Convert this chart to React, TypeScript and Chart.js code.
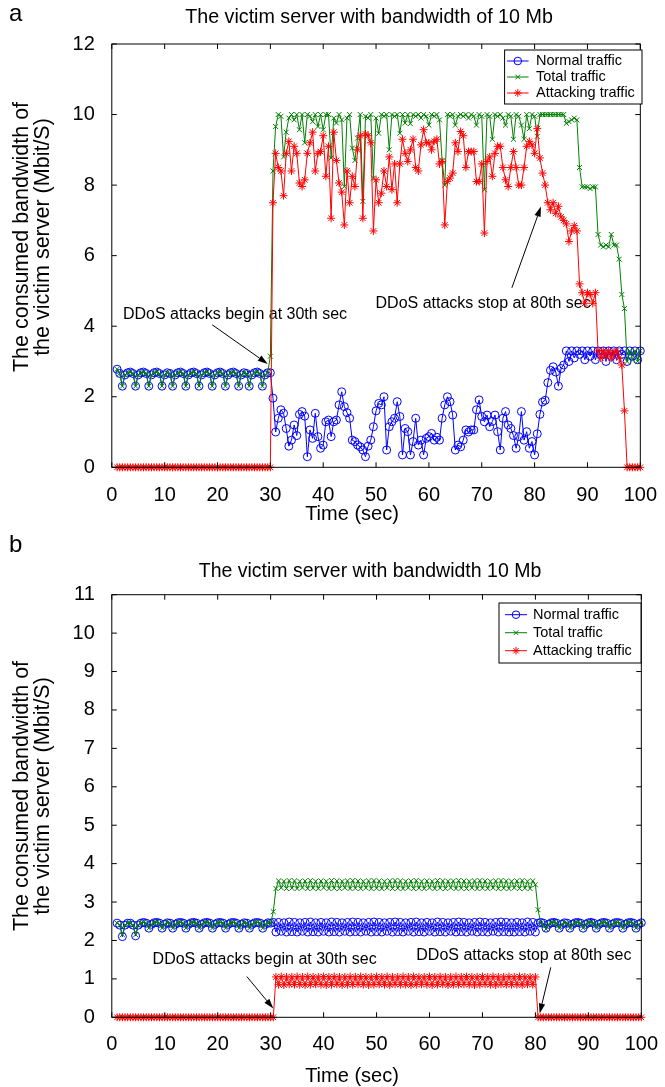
import React, { useEffect, useRef } from 'react';
import { Chart, registerables } from 'chart.js';

Chart.register(...registerables);

const FONT = '"Liberation Sans", Arial, Helvetica, sans-serif';

// sample instants: t = 1, 1.5, ..., 100 (seconds)
const TIME_START = 1;
const TIME_STEP = 0.5;

const SERIES_LABELS = ['Normal traffic', 'Total traffic', 'Attacking traffic'];
const X_TICKS = [0, 10, 20, 30, 40, 50, 60, 70, 80, 90, 100];
const A_Y_TICKS = [0, 2, 4, 6, 8, 10, 12];
const B_Y_TICKS = [0, 1, 2, 3, 4, 5, 6, 7, 8, 9, 10, 11];

const A_TITLE = 'The victim server with bandwidth of 10 Mb';
const B_TITLE = 'The victim server with bandwidth 10 Mb';
const Y_TITLE = ['The consumed bandwidth of', 'the victim server (Mbit/S)'];
const X_TITLE = 'Time (sec)';
const NOTE_BEGIN = 'DDoS attacks begin at 30th sec';
const NOTE_STOP = 'DDoS attacks stop at 80th sec';

// ---------- panel a ----------
const A_NORMAL = [
  2.78, 2.66, 2.30, 2.62, 2.68, 2.70, 2.66, 2.30, 2.62, 2.68,
  2.70, 2.66, 2.30, 2.62, 2.68, 2.70, 2.66, 2.30, 2.62, 2.68,
  2.66, 2.30, 2.62, 2.68, 2.70, 2.66, 2.30, 2.62, 2.68, 2.70,
  2.66, 2.30, 2.62, 2.68, 2.70, 2.66, 2.30, 2.62, 2.68, 2.70,
  2.66, 2.30, 2.62, 2.68, 2.70, 2.66, 2.30, 2.62, 2.68, 2.66,
  2.30, 2.62, 2.68, 2.70, 2.66, 2.30, 2.62, 2.68, 2.68, 1.96,
  1.00, 1.39, 1.63, 1.53, 1.10, 0.60, 0.77, 1.20, 0.90, 1.50,
  1.58, 1.45, 0.30, 1.06, 0.82, 1.53, 0.87, 0.54, 0.63, 1.29,
  1.34, 0.87, 1.29, 1.34, 1.77, 2.14, 1.72, 1.55, 1.39, 0.77,
  0.73, 0.63, 0.58, 0.49, 0.30, 0.60, 0.77, 1.15, 1.60, 1.81,
  1.77, 2.00, 0.49, 1.15, 1.29, 1.39, 1.86, 1.44, 0.35, 1.10,
  1.01, 0.35, 0.73, 1.39, 0.63, 0.77, 0.35, 0.82, 0.87, 0.96,
  0.77, 0.85, 0.77, 1.39, 1.77, 2.00, 1.86, 1.48, 0.49, 0.63,
  0.58, 0.77, 1.06, 1.00, 1.06, 1.06, 1.63, 1.91, 1.44, 1.29,
  1.48, 1.15, 1.30, 1.48, 1.01, 0.49, 1.39, 1.58, 1.20, 1.10,
  0.90, 0.54, 0.87, 1.58, 0.77, 1.01, 0.54, 0.73, 0.35, 0.95,
  1.50, 1.85, 1.90, 2.40, 2.75, 2.85, 2.70, 2.30, 2.80, 2.90,
  3.30, 3.00, 3.30, 3.10, 3.30, 3.20, 3.30, 3.05, 3.30, 3.15,
  3.30, 3.05, 3.30, 3.20, 3.30, 3.00, 3.30, 3.15, 3.30, 3.05,
  3.30, 3.20, 3.30, 3.00, 3.30, 3.15, 3.30, 3.05, 3.30,
];

const A_TOTAL = [
  2.78, 2.66, 2.30, 2.62, 2.68, 2.70, 2.66, 2.30, 2.62, 2.68,
  2.70, 2.66, 2.30, 2.62, 2.68, 2.70, 2.66, 2.30, 2.62, 2.68,
  2.66, 2.30, 2.62, 2.68, 2.70, 2.66, 2.30, 2.62, 2.68, 2.70,
  2.66, 2.30, 2.62, 2.68, 2.70, 2.66, 2.30, 2.62, 2.68, 2.70,
  2.66, 2.30, 2.62, 2.68, 2.70, 2.66, 2.30, 2.62, 2.68, 2.66,
  2.30, 2.62, 2.68, 2.70, 2.66, 2.30, 2.62, 2.68, 3.15, 8.40,
  9.66, 10.0, 9.95, 8.80, 9.50, 9.90, 10.0, 9.85, 10.0, 9.57,
  10.0, 9.20, 10.0, 9.95, 9.80, 10.0, 9.66, 10.0, 9.57, 10.0,
  10.0, 8.77, 9.90, 9.76, 10.0, 9.85, 7.96, 9.90, 10.0, 9.05,
  8.70, 9.33, 10.0, 7.54, 9.95, 9.90, 10.0, 8.20, 9.90, 9.47,
  10.0, 9.95, 10.0, 9.00, 10.0, 9.95, 10.0, 9.47, 10.0, 9.76,
  10.0, 9.74, 10.0, 9.95, 10.0, 9.90, 10.0, 9.95, 9.70, 10.0,
  9.95, 10.0, 9.85, 8.70, 8.00, 10.0, 9.95, 10.0, 9.70, 9.95,
  10.0, 9.95, 10.0, 9.90, 10.0, 9.95, 9.70, 10.0, 9.95, 7.87,
  10.0, 9.95, 9.30, 10.0, 9.95, 10.0, 9.90, 9.70, 10.0, 9.95,
  9.30, 10.0, 9.95, 9.70, 9.30, 10.0, 9.60, 10.0, 9.95, 9.38,
  10.0, 10.0, 10.0, 10.0, 10.0, 10.0, 10.0, 10.0, 10.0, 10.0,
  9.75, 9.80, 9.85, 9.90, 9.85, 8.50, 7.95, 7.95, 7.95, 7.90,
  7.95, 7.95, 6.60, 6.30, 6.25, 6.30, 6.25, 6.60, 6.30, 6.30,
  5.90, 4.90, 4.50, 3.00, 3.30, 3.05, 3.30, 3.00, 3.30,
];

const A_ATTACK = [
  0, 0, 0, 0, 0, 0, 0, 0, 0, 0,
  0, 0, 0, 0, 0, 0, 0, 0, 0, 0,
  0, 0, 0, 0, 0, 0, 0, 0, 0, 0,
  0, 0, 0, 0, 0, 0, 0, 0, 0, 0,
  0, 0, 0, 0, 0, 0, 0, 0, 0, 0,
  0, 0, 0, 0, 0, 0, 0, 0, 0, 7.50,
  8.90, 8.50, 8.40, 7.70, 8.90, 9.24, 8.40, 9.10, 8.90, 8.06,
  7.96, 8.15, 8.90, 9.20, 9.50, 8.40, 8.90, 8.95, 9.40, 8.25,
  9.10, 7.06, 9.50, 8.70, 8.06, 7.80, 6.87, 8.40, 7.50, 8.25,
  7.96, 9.00, 9.40, 7.06, 9.45, 9.40, 9.20, 6.70, 8.15, 7.50,
  7.77, 8.40, 7.96, 8.80, 7.87, 8.60, 7.50, 8.60, 9.30, 8.90,
  8.67, 9.00, 9.30, 8.50, 8.40, 9.14, 9.57, 9.20, 9.20, 9.00,
  9.24, 9.30, 8.60, 8.67, 6.87, 8.10, 8.20, 8.34, 9.20, 8.95,
  9.52, 9.40, 8.50, 8.95, 8.95, 8.95, 8.10, 8.10, 8.60, 6.64,
  8.67, 8.80, 8.25, 8.90, 9.10, 9.10, 8.50, 8.15, 7.96, 8.50,
  8.95, 8.50, 8.00, 8.00, 8.50, 9.10, 9.24, 9.14, 8.90, 9.60,
  8.77, 8.34, 8.00, 7.50, 7.30, 7.50, 7.20, 7.40, 7.10, 7.00,
  6.90, 6.40, 6.70, 6.85, 6.70, 5.20, 4.95, 4.65, 4.95, 4.90,
  4.65, 4.95, 3.30, 3.10, 3.30, 3.15, 3.30, 3.10, 3.25, 3.30,
  3.10, 2.90, 1.60, 0, 0, 0, 0, 0, 0,
];

// ---------- panel b ----------
const B_NORMAL = [
  2.45, 2.40, 2.10, 2.40, 2.45, 2.45, 2.40, 2.12, 2.40, 2.45,
  2.47, 2.45, 2.32, 2.42, 2.46, 2.47, 2.45, 2.32, 2.42, 2.46,
  2.45, 2.32, 2.42, 2.46, 2.47, 2.45, 2.32, 2.42, 2.46, 2.47,
  2.45, 2.32, 2.42, 2.46, 2.47, 2.45, 2.32, 2.42, 2.46, 2.47,
  2.45, 2.32, 2.42, 2.46, 2.47, 2.45, 2.32, 2.42, 2.46, 2.45,
  2.32, 2.42, 2.46, 2.47, 2.45, 2.32, 2.42, 2.46, 2.45, 2.47,
  2.22, 2.47, 2.24, 2.46, 2.22, 2.48, 2.23, 2.47, 2.22, 2.46,
  2.24, 2.47, 2.22, 2.48, 2.23, 2.46, 2.22, 2.47, 2.24, 2.46,
  2.22, 2.48, 2.23, 2.47, 2.22, 2.46, 2.24, 2.47, 2.22, 2.48,
  2.23, 2.47, 2.22, 2.46, 2.24, 2.47, 2.22, 2.48, 2.23, 2.47,
  2.22, 2.46, 2.24, 2.47, 2.22, 2.48, 2.23, 2.47, 2.22, 2.46,
  2.24, 2.47, 2.22, 2.48, 2.23, 2.46, 2.22, 2.47, 2.24, 2.46,
  2.22, 2.48, 2.23, 2.47, 2.22, 2.46, 2.24, 2.47, 2.22, 2.48,
  2.23, 2.47, 2.22, 2.46, 2.24, 2.47, 2.22, 2.48, 2.23, 2.47,
  2.22, 2.46, 2.24, 2.47, 2.22, 2.48, 2.23, 2.47, 2.22, 2.46,
  2.22, 2.47, 2.23, 2.46, 2.22, 2.48, 2.24, 2.47, 2.22, 2.45,
  2.47, 2.45, 2.32, 2.42, 2.46, 2.47, 2.45, 2.32, 2.42, 2.46,
  2.45, 2.32, 2.42, 2.46, 2.47, 2.45, 2.32, 2.42, 2.46, 2.47,
  2.45, 2.32, 2.42, 2.46, 2.47, 2.45, 2.32, 2.42, 2.46, 2.47,
  2.45, 2.32, 2.42, 2.46, 2.47, 2.45, 2.32, 2.42, 2.46,
];

const B_TOTAL = [
  2.45, 2.40, 2.15, 2.40, 2.45, 2.45, 2.40, 2.15, 2.40, 2.45,
  2.47, 2.45, 2.32, 2.42, 2.46, 2.47, 2.45, 2.32, 2.42, 2.46,
  2.45, 2.32, 2.42, 2.46, 2.47, 2.45, 2.32, 2.42, 2.46, 2.47,
  2.45, 2.32, 2.42, 2.46, 2.47, 2.45, 2.32, 2.42, 2.46, 2.47,
  2.45, 2.32, 2.42, 2.46, 2.47, 2.45, 2.32, 2.42, 2.46, 2.45,
  2.32, 2.42, 2.46, 2.47, 2.45, 2.32, 2.42, 2.46, 2.45, 2.75,
  3.35, 3.55, 3.37, 3.54, 3.35, 3.56, 3.36, 3.55, 3.35, 3.54,
  3.37, 3.55, 3.35, 3.56, 3.36, 3.54, 3.35, 3.55, 3.37, 3.54,
  3.35, 3.56, 3.36, 3.55, 3.35, 3.54, 3.37, 3.55, 3.35, 3.56,
  3.36, 3.55, 3.35, 3.54, 3.37, 3.55, 3.35, 3.56, 3.36, 3.55,
  3.35, 3.54, 3.37, 3.55, 3.35, 3.56, 3.36, 3.55, 3.35, 3.54,
  3.37, 3.55, 3.35, 3.56, 3.36, 3.54, 3.35, 3.55, 3.37, 3.54,
  3.35, 3.56, 3.36, 3.55, 3.35, 3.54, 3.37, 3.55, 3.35, 3.56,
  3.36, 3.55, 3.35, 3.54, 3.37, 3.55, 3.35, 3.56, 3.36, 3.55,
  3.35, 3.54, 3.37, 3.55, 3.35, 3.56, 3.36, 3.55, 3.35, 3.54,
  3.37, 3.55, 3.35, 3.56, 3.36, 3.54, 3.35, 3.55, 3.45, 2.80,
  2.45, 2.40, 2.30, 2.42, 2.46, 2.47, 2.45, 2.32, 2.42, 2.46,
  2.45, 2.32, 2.42, 2.46, 2.47, 2.45, 2.32, 2.42, 2.46, 2.47,
  2.45, 2.32, 2.42, 2.46, 2.47, 2.45, 2.32, 2.42, 2.46, 2.47,
  2.45, 2.32, 2.42, 2.46, 2.47, 2.45, 2.32, 2.42, 2.46,
];

const B_ATTACK = [
  0, 0, 0, 0, 0, 0, 0, 0, 0, 0,
  0, 0, 0, 0, 0, 0, 0, 0, 0, 0,
  0, 0, 0, 0, 0, 0, 0, 0, 0, 0,
  0, 0, 0, 0, 0, 0, 0, 0, 0, 0,
  0, 0, 0, 0, 0, 0, 0, 0, 0, 0,
  0, 0, 0, 0, 0, 0, 0, 0, 0, 0,
  1.05, 0.85, 1.06, 0.84, 1.05, 0.86, 1.05, 0.85, 1.06, 0.85,
  1.05, 0.84, 1.06, 0.85, 1.05, 0.86, 1.05, 0.85, 1.06, 0.84,
  1.05, 0.85, 1.06, 0.86, 1.05, 0.84, 1.05, 0.85, 1.06, 0.85,
  1.05, 0.86, 1.06, 0.85, 1.05, 0.84, 1.05, 0.85, 1.06, 0.86,
  1.05, 0.85, 1.06, 0.84, 1.05, 0.86, 1.05, 0.85, 1.06, 0.85,
  1.05, 0.84, 1.06, 0.85, 1.05, 0.86, 1.05, 0.85, 1.06, 0.84,
  1.05, 0.85, 1.06, 0.86, 1.05, 0.84, 1.05, 0.85, 1.06, 0.85,
  1.05, 0.86, 1.06, 0.85, 1.05, 0.84, 1.05, 0.85, 1.06, 0.86,
  1.05, 0.85, 1.06, 0.84, 1.05, 0.86, 1.05, 0.85, 1.06, 0.85,
  1.05, 0.85, 1.06, 0.84, 1.05, 0.86, 1.05, 0.85, 1.05, 0,
  0, 0, 0, 0, 0, 0, 0, 0, 0, 0,
  0, 0, 0, 0, 0, 0, 0, 0, 0, 0,
  0, 0, 0, 0, 0, 0, 0, 0, 0, 0,
  0, 0, 0, 0, 0, 0, 0, 0, 0,
];

// ---------- styling / layout ----------
const BLUE = '#0000ff';
const GREEN = '#008000';
const RED = '#ff0000';
const W = 665;
const PLOT_LEFT = 111.8;
const PLOT_RIGHT = 647;

type Note = { text: string; tx: number; ty: number; ax0: number; ay0: number; ax1: number; ay1: number };
type PanelCfg = {
  letter: string; title: string; top: number; height: number;
  plotTop: number; plotBottom: number; yMax: number; yTicks: number[];
  normal: number[]; total: number[]; attack: number[];
  xLabelPad: number; titleY: number; titleX: number; titleSize: number; letterY: number;
  xTitleX: number; xTitleY: number; yTitleY: number;
  legend: { left: number; top: number; right: number; bottom: number; rows: number[]; lineX0: number; lineX1: number; textX: number };
  notes: Note[];
};

const PANELS: PanelCfg[] = [
  {
    letter: 'a', title: A_TITLE, top: 0, height: 540,
    plotTop: 44, plotBottom: 467.3, yMax: 12, yTicks: A_Y_TICKS,
    normal: A_NORMAL, total: A_TOTAL, attack: A_ATTACK,
    xLabelPad: 8, titleY: 18, titleX: 369, titleSize: 19.7, letterY: 14,
    xTitleX: 352, xTitleY: 514, yTitleY: 237,
    legend: { left: 504.6, top: 50, right: 642, bottom: 104, rows: [61, 77, 93], lineX0: 507, lineX1: 528.6, textX: 536 },
    notes: [
      { text: NOTE_BEGIN, tx: 2.1, ty: 4.32, ax0: 19.0, ay0: 4.04, ax1: 29.5, ay1: 2.93 },
      { text: NOTE_STOP, tx: 49.9, ty: 4.63, ax0: 75.7, ay0: 5.09, ax1: 81.2, ay1: 7.39 },
    ],
  },
  {
    letter: 'b', title: B_TITLE, top: 525, height: 562,
    plotTop: 69.7, plotBottom: 492.3, yMax: 11, yTicks: B_Y_TICKS,
    normal: B_NORMAL, total: B_TOTAL, attack: B_ATTACK,
    xLabelPad: 7, titleY: 47, titleX: 370, titleSize: 19.5, letterY: 20,
    xTitleX: 352, xTitleY: 551, yTitleY: 271,
    legend: { left: 499, top: 78, right: 641, bottom: 138, rows: [89.7, 107.7, 125.7], lineX0: 505, lineX1: 527, textX: 533 },
    notes: [
      { text: NOTE_BEGIN, tx: 7.7, ty: 1.49, ax0: 25.5, ay0: 1.06, ax1: 30.5, ay1: 0.23 },
      { text: NOTE_STOP, tx: 57.5, ty: 1.6, ax0: 82.9, ay0: 1.3, ax1: 80.8, ay1: 0.1 },
    ],
  },
];

function makePoints(values: number[]) {
  return values.map((v, i) => ({ x: TIME_START + i * TIME_STEP, y: v }));
}

function drawMarker(ctx: CanvasRenderingContext2D, kind: string, x: number, y: number, r: number) {
  ctx.beginPath();
  if (kind === 'circle') {
    ctx.arc(x, y, r, 0, Math.PI * 2);
  } else {
    const d = r * Math.SQRT1_2;
    ctx.moveTo(x - d, y - d); ctx.lineTo(x + d, y + d);
    ctx.moveTo(x - d, y + d); ctx.lineTo(x + d, y - d);
    if (kind === 'star') {
      ctx.moveTo(x - r, y); ctx.lineTo(x + r, y);
      ctx.moveTo(x, y - r); ctx.lineTo(x, y + r);
    }
  }
  ctx.stroke();
}

function drawArrow(ctx: CanvasRenderingContext2D, x0: number, y0: number, x1: number, y1: number) {
  const ang = Math.atan2(y1 - y0, x1 - x0);
  const len = 10, half = 3.2;
  const bx = x1 - len * Math.cos(ang), by = y1 - len * Math.sin(ang);
  ctx.beginPath();
  ctx.moveTo(x0, y0); ctx.lineTo(bx, by);
  ctx.stroke();
  ctx.beginPath();
  ctx.moveTo(x1, y1);
  ctx.lineTo(bx + half * Math.sin(ang), by - half * Math.cos(ang));
  ctx.lineTo(bx - half * Math.sin(ang), by + half * Math.cos(ang));
  ctx.closePath();
  ctx.fill();
}

function makeDecor(p: PanelCfg) {
  return {
    id: 'decor' + p.letter,
    beforeDatasetsDraw(chart: any) {
      const ctx: CanvasRenderingContext2D = chart.ctx;
      const xs = chart.scales.x, ys = chart.scales.y;
      ctx.save();
      ctx.fillStyle = '#000'; ctx.strokeStyle = '#000'; ctx.lineWidth = 1;
      ctx.font = `16px ${FONT}`;
      ctx.textAlign = 'left'; ctx.textBaseline = 'middle';
      p.notes.forEach((n) => {
        ctx.fillText(n.text, xs.getPixelForValue(n.tx), ys.getPixelForValue(n.ty));
        drawArrow(ctx, xs.getPixelForValue(n.ax0), ys.getPixelForValue(n.ay0), xs.getPixelForValue(n.ax1), ys.getPixelForValue(n.ay1));
      });
      ctx.restore();
    },
    afterDatasetsDraw(chart: any) {
      const ctx: CanvasRenderingContext2D = chart.ctx;
      const a = chart.chartArea;
      const xs = chart.scales.x, ys = chart.scales.y;
      ctx.save();
      ctx.strokeStyle = '#000'; ctx.lineWidth = 1;
      ctx.strokeRect(a.left, a.top, a.right - a.left, a.bottom - a.top);
      const tl = 5;
      ctx.beginPath();
      X_TICKS.forEach((v) => {
        const x = xs.getPixelForValue(v);
        ctx.moveTo(x, a.bottom); ctx.lineTo(x, a.bottom - tl);
        ctx.moveTo(x, a.top); ctx.lineTo(x, a.top + tl);
      });
      p.yTicks.forEach((v) => {
        const y = ys.getPixelForValue(v);
        ctx.moveTo(a.left, y); ctx.lineTo(a.left + tl, y);
        ctx.moveTo(a.right, y); ctx.lineTo(a.right - tl, y);
      });
      ctx.stroke();
      // legend
      const L = p.legend;
      ctx.fillStyle = '#fff';
      ctx.fillRect(L.left, L.top, L.right - L.left, L.bottom - L.top);
      ctx.strokeStyle = '#000';
      ctx.strokeRect(L.left, L.top, L.right - L.left, L.bottom - L.top);
      const cols = [BLUE, GREEN, RED];
      const kinds = ['circle', 'cross', 'star'];
      const radii = [3.8, 3.3, 3.8];
      ctx.font = `14.5px ${FONT}`;
      ctx.textAlign = 'left'; ctx.textBaseline = 'middle';
      SERIES_LABELS.forEach((lab, i) => {
        const y = L.rows[i];
        ctx.strokeStyle = cols[i];
        ctx.beginPath(); ctx.moveTo(L.lineX0, y); ctx.lineTo(L.lineX1, y); ctx.stroke();
        drawMarker(ctx, kinds[i], (L.lineX0 + L.lineX1) / 2, y, radii[i]);
        ctx.fillStyle = '#000';
        ctx.fillText(lab, L.textX, y);
      });
      ctx.restore();
    },
    afterDraw(chart: any) {
      const ctx: CanvasRenderingContext2D = chart.ctx;
      ctx.save();
      ctx.fillStyle = '#000';
      ctx.textBaseline = 'middle';
      ctx.textAlign = 'center';
      ctx.font = `${p.titleSize}px ${FONT}`;
      ctx.fillText(p.title, p.titleX, p.titleY);
      ctx.font = `20px ${FONT}`;
      ctx.fillText(X_TITLE, p.xTitleX, p.xTitleY);
      ctx.font = `21.5px ${FONT}`;
      [22, 43].forEach((x, i) => {
        ctx.save();
        ctx.translate(x, p.yTitleY);
        ctx.rotate(-Math.PI / 2);
        ctx.fillText(Y_TITLE[i], 0, 0);
        ctx.restore();
      });
      ctx.textAlign = 'left';
      ctx.font = `24px ${FONT}`;
      ctx.fillText(p.letter, 9, p.letterY);
      ctx.restore();
    },
  };
}

function buildConfig(p: PanelCfg): any {
  const common = { borderWidth: 1, pointBorderWidth: 1, fill: false, tension: 0, clip: false, pointBackgroundColor: 'rgba(0,0,0,0)' };
  return {
    type: 'line',
    data: {
      datasets: [
        { ...common, label: SERIES_LABELS[0], data: makePoints(p.normal), borderColor: BLUE, pointBorderColor: BLUE, pointStyle: 'circle', pointRadius: 4, order: 3 },
        { ...common, label: SERIES_LABELS[1], data: makePoints(p.total), borderColor: GREEN, pointBorderColor: GREEN, pointStyle: 'crossRot', pointRadius: 3.5, order: 2 },
        { ...common, label: SERIES_LABELS[2], data: makePoints(p.attack), borderColor: RED, pointBorderColor: RED, pointStyle: 'star', pointRadius: 4, order: 1 },
      ],
    },
    options: {
      responsive: false,
      maintainAspectRatio: false,
      animation: false,
      events: [],
      layout: { padding: { top: p.plotTop, left: 0, right: W - PLOT_RIGHT, bottom: 0 } },
      plugins: { legend: { display: false }, tooltip: { enabled: false }, title: { display: false } },
      scales: {
        x: {
          type: 'linear', min: 0, max: 100,
          grid: { display: false }, border: { display: false },
          afterBuildTicks: (s: any) => { s.ticks = X_TICKS.map((v) => ({ value: v })); },
          afterFit: (s: any) => { s.height = p.height - p.plotBottom; },
          ticks: { autoSkip: false, maxRotation: 0, padding: p.xLabelPad, color: '#000', font: { family: FONT, size: 20 } },
          title: { display: false },
        },
        y: {
          type: 'linear', min: 0, max: p.yMax,
          grid: { display: false }, border: { display: false },
          afterBuildTicks: (s: any) => { s.ticks = p.yTicks.map((v) => ({ value: v })); },
          afterFit: (s: any) => { s.width = PLOT_LEFT; },
          ticks: { autoSkip: false, padding: 9, color: '#000', font: { family: FONT, size: 20 } },
          title: { display: false },
        },
      },
    },
    plugins: [makeDecor(p)],
  };
}

function Panel({ cfg }: { cfg: PanelCfg }) {
  const ref = useRef<HTMLCanvasElement | null>(null);
  useEffect(() => {
    const chart = new Chart(ref.current as HTMLCanvasElement, buildConfig(cfg));
    return () => chart.destroy();
  }, [cfg]);
  return (
    <canvas
      ref={ref}
      width={W}
      height={cfg.height}
      style={{ position: 'absolute', left: 0, top: cfg.top, width: W, height: cfg.height }}
    />
  );
}

export default function App() {
  return (
    <div style={{ position: 'absolute', left: 0, top: 0, width: W, height: 1087, background: '#fff', overflow: 'hidden' }}>
      {PANELS.map((p) => (
        <Panel key={p.letter} cfg={p} />
      ))}
    </div>
  );
}
